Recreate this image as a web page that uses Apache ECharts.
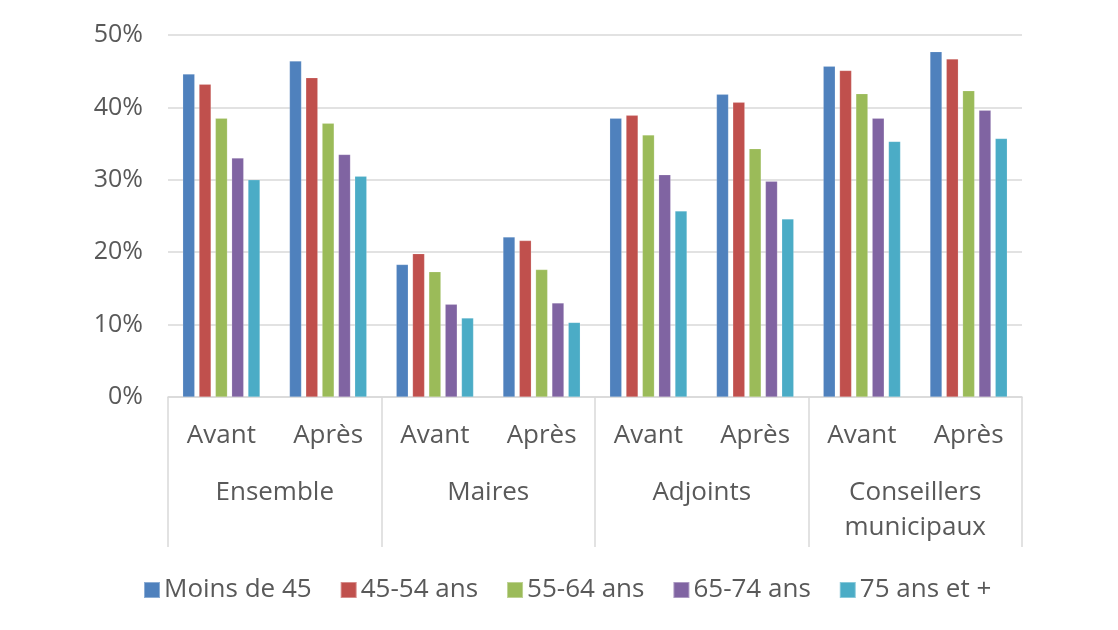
<!DOCTYPE html>
<html>
<head>
<meta charset="utf-8">
<script src="https://cdn.jsdelivr.net/npm/echarts@6/dist/echarts.min.js"></script>
<style>
html,body{margin:0;padding:0;background:#fff;}
#chart{width:1118px;height:630px;}
</style>
</head>
<body>
<div id="chart"></div>
<script>
const subCategories = ['Avant','Après','Avant','Après','Avant','Après','Avant','Après'];
const groups = ['Ensemble','Maires','Adjoints','Conseillers\nmunicipaux'];
const seriesNames = ['Moins de 45','45-54 ans','55-64 ans','65-74 ans','75 ans et +'];
const moins45 = [44.6, 46.4, 18.3, 22.1, 38.5, 41.8, 45.7, 47.7];
const ans45_54 = [43.2, 44.1, 19.8, 21.6, 38.9, 40.7, 45.1, 46.7];
const ans55_64 = [38.5, 37.8, 17.3, 17.6, 36.2, 34.3, 41.9, 42.3];
const ans65_74 = [33.0, 33.5, 12.8, 13.0, 30.7, 29.8, 38.5, 39.6];
const ans75plus = [30.0, 30.5, 10.9, 10.3, 25.7, 24.6, 35.3, 35.7];
const yTicks = {min: 0, max: 50, interval: 10};

const colors = ['#4F81BD','#C0504D','#9BBB59','#8064A2','#4BACC6'];
const values = [moins45, ans45_54, ans55_64, ans65_74, ans75plus];
const font = '"Open Sans", "Noto Sans", sans-serif';
const textColor = '#595959';
const lineColor = '#d9d9d9';

const chart = echarts.init(document.getElementById('chart'), null, {renderer:'canvas'});
chart.setOption({
  animation: false,
  color: colors,
  textStyle: {fontFamily: font},
  grid: {left: 168, right: 96, top: 35, bottom: 233, containLabel: false},
  legend: {
    left: 138, top: 572,
    icon: 'rect', itemWidth: 16, itemHeight: 16, itemGap: 28,
    textStyle: {fontSize: 26, color: textColor, fontFamily: font, padding: [0, 0, 0, -1]},
    data: seriesNames
  },
  xAxis: [
    {
      type: 'category', data: subCategories, position: 'bottom',
      axisLine: {show: true, lineStyle: {color: lineColor, width: 1.5}},
      axisTick: {show: false},
      axisLabel: {interval: 0, margin: 21, fontSize: 26, lineHeight: 35, color: textColor, fontFamily: font}
    },
    {
      type: 'category', data: groups, position: 'bottom', offset: 0,
      axisLine: {show: false},
      axisTick: {show: true, interval: 0, length: 150, lineStyle: {color: lineColor, width: 1.5}},
      axisLabel: {interval: 0, margin: 78, fontSize: 26, lineHeight: 35, color: textColor, fontFamily: font}
    }
  ],
  yAxis: {
    type: 'value', min: yTicks.min, max: yTicks.max, interval: yTicks.interval,
    axisLine: {show: false}, axisTick: {show: false},
    splitLine: {lineStyle: {color: lineColor, width: 1.5}},
    axisLabel: {formatter: '{value}%', fontSize: 25, color: textColor, margin: 25, fontFamily: font}
  },
  series: seriesNames.map((name, i) => ({
    name: name, type: 'bar', xAxisIndex: 0, data: values[i],
    barWidth: 12, barGap: '36%',
    itemStyle: {color: colors[i], borderColor: 'rgba(255,255,255,0.35)', borderWidth: 0.5}
  }))
});
</script>
</body>
</html>
